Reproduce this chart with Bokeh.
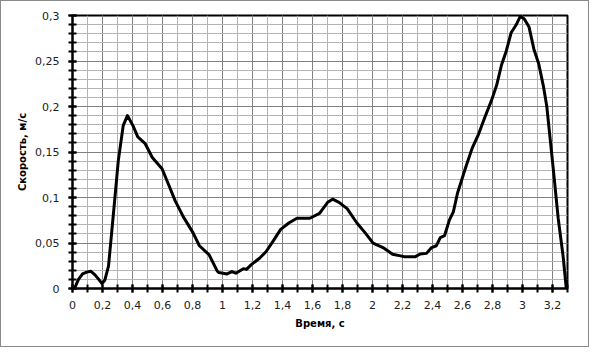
import numpy as np
from bokeh.plotting import figure
from bokeh.models import Range1d, FixedTicker, CustomJSTickFormatter
from bokeh.embed import file_html
from bokeh.resources import INLINE

# time, s
t = [0.013, 0.04, 0.067, 0.095, 0.121, 0.15, 0.175, 0.197, 0.215, 0.24,
     0.262, 0.284, 0.305, 0.338, 0.366, 0.403, 0.435, 0.483, 0.532, 0.597,
     0.641, 0.684, 0.738, 0.803, 0.825, 0.846, 0.911, 0.965, 0.976, 1.03,
     1.063, 1.089, 1.139, 1.16, 1.192, 1.247, 1.29, 1.333, 1.388, 1.442,
     1.496, 1.582, 1.647, 1.701, 1.734, 1.777, 1.831, 1.896, 1.95, 2.004,
     2.07, 2.134, 2.21, 2.286, 2.318, 2.36, 2.394, 2.426, 2.452, 2.48,
     2.513, 2.539, 2.567, 2.621, 2.664, 2.708, 2.751, 2.794, 2.827, 2.86,
     2.892, 2.924, 2.957, 2.985, 3.011, 3.043, 3.076, 3.108, 3.141, 3.162,
     3.184, 3.206, 3.238, 3.271, 3.292]
# speed, m/s
v = [0.0, 0.010, 0.016, 0.018, 0.019, 0.015, 0.010, 0.0053, 0.009, 0.0246,
     0.063, 0.102, 0.140, 0.179, 0.190, 0.179, 0.1667, 0.1596, 0.1439, 0.1316,
     0.114, 0.0965, 0.079, 0.0614, 0.054, 0.047, 0.037, 0.019, 0.0175, 0.016,
     0.0186, 0.0168, 0.0218, 0.021, 0.0263, 0.0333, 0.0404, 0.0509, 0.065, 0.072,
     0.0772, 0.0772, 0.0825, 0.0947, 0.0982, 0.0947, 0.0877, 0.072, 0.0614, 0.0498,
     0.045, 0.0376, 0.035, 0.035, 0.0379, 0.0386, 0.045, 0.047, 0.056, 0.058,
     0.0754, 0.0842, 0.105, 0.133, 0.154, 0.170, 0.189, 0.207, 0.223, 0.2456,
     0.261, 0.281, 0.2895, 0.299, 0.2965, 0.2877, 0.263, 0.247, 0.221, 0.200,
     0.165, 0.130, 0.077, 0.035, 0.0]

x_ticks = [0, 0.2, 0.4, 0.6, 0.8, 1.0, 1.2, 1.4, 1.6, 1.8, 2.0, 2.2, 2.4, 2.6, 2.8, 3.0, 3.2]
y_ticks = [0, 0.05, 0.1, 0.15, 0.2, 0.25, 0.3]
x_minor = [round(0.1 * i, 2) for i in range(0, 34)]
y_minor = [round(0.01 * i, 3) for i in range(0, 31)]

x_label = "Время, с"
y_label = "Скорость, м/с"

p = figure(width=589, height=347, output_backend="svg", toolbar_location=None,
           x_range=Range1d(0, 3.3), y_range=Range1d(0, 0.3),
           min_border_left=71, min_border_right=23, min_border_top=14, min_border_bottom=60)
p.styles = {"border": "1px solid #8a8a8a"}

p.outline_line_color = "black"
p.outline_line_width = 2

fmt = CustomJSTickFormatter(code="return String(Math.round(tick*100)/100).replace('.', ',');")

p.xaxis.ticker = FixedTicker(ticks=x_ticks, minor_ticks=x_minor)
p.yaxis.ticker = FixedTicker(ticks=y_ticks, minor_ticks=y_minor)
p.xaxis.formatter = fmt
p.yaxis.formatter = fmt

for ax in (p.xaxis, p.yaxis):
    ax.axis_line_color = "black"
    ax.axis_line_width = 2
    ax.major_tick_line_color = "black"
    ax.major_tick_line_width = 2
    ax.minor_tick_line_color = "black"
    ax.minor_tick_line_width = 2
    ax.major_tick_in = 4
    ax.major_tick_out = 4
    ax.minor_tick_in = 4
    ax.minor_tick_out = 4
    ax.major_label_text_font = "DejaVu Sans"
    ax.major_label_text_font_size = "11px"
    ax.major_label_text_color = "#222222"
    ax.axis_label_text_font = "DejaVu Sans"
    ax.axis_label_text_font_size = "10px"
    ax.axis_label_text_font_style = "bold"
    ax.axis_label_text_color = "black"

p.xaxis.axis_label = x_label
p.yaxis.axis_label = y_label
p.xaxis.major_label_standoff = 8
p.yaxis.major_label_standoff = 9
p.xaxis.axis_label_standoff = 6
p.yaxis.axis_label_standoff = 4

for g in (p.xgrid, p.ygrid):
    g.grid_line_color = "#808080"
    g.grid_line_width = 1
    g.minor_grid_line_color = "#b4b4b4"
    g.minor_grid_line_width = 1

p.line(t, v, line_color="black", line_width=3, line_join="round", line_cap="round")

open("out.html", "w").write(file_html(p, INLINE))
